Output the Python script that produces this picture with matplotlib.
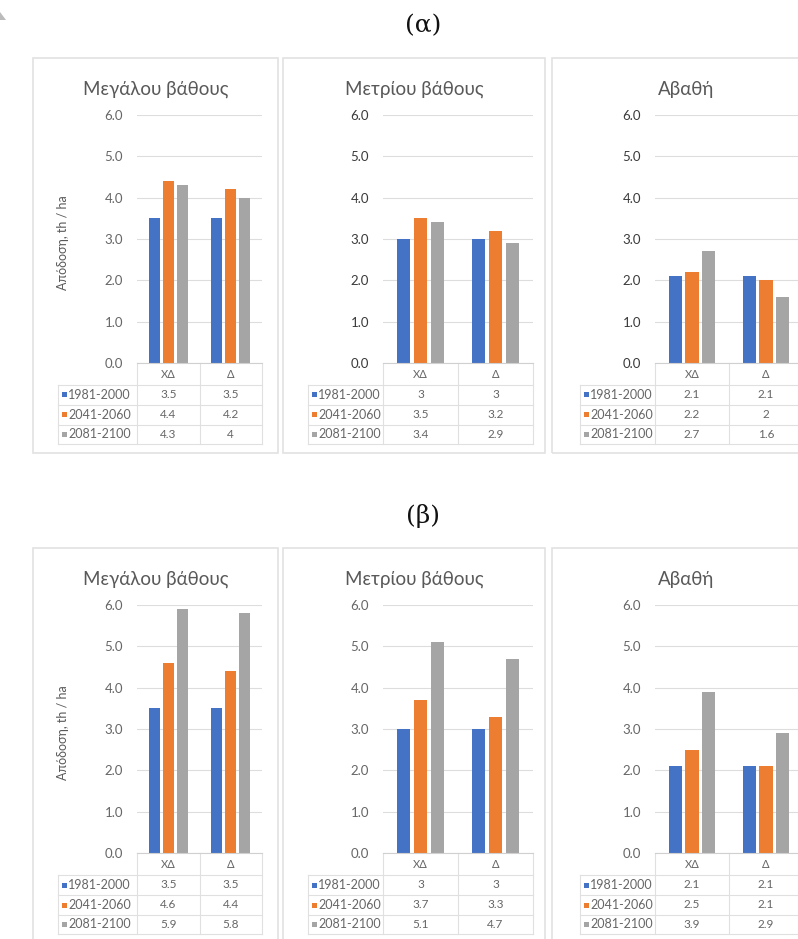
import matplotlib
matplotlib.use("Agg")
import matplotlib.pyplot as plt
from matplotlib.patches import Rectangle, Polygon

plt.rcParams['font.family'] = ['Lato', 'Noto Sans', 'DejaVu Sans']

# ---------------- data ----------------
panel_titles = ["Μεγάλου βάθους", "Μετρίου βάθους", "Αβαθή"]
categories = ["ΧΔ", "Δ"]
periods = ["1981-2000", "2041-2060", "2081-2100"]
colors = ["#4472C4", "#ED7D31", "#A5A5A5"]
row_titles = ["(α)", "(β)"]
y_label = "Απόδοση, th / ha"
y_ticks = [0, 1, 2, 3, 4, 5, 6]

# (α) values: [panel][period][category]
a_deep = [[3.5, 3.5], [4.4, 4.2], [4.3, 4.0]]
a_medium = [[3.0, 3.0], [3.5, 3.2], [3.4, 2.9]]
a_shallow = [[2.1, 2.1], [2.2, 2.0], [2.7, 1.6]]
# (β) values
b_deep = [[3.5, 3.5], [4.6, 4.4], [5.9, 5.8]]
b_medium = [[3.0, 3.0], [3.7, 3.3], [5.1, 4.7]]
b_shallow = [[2.1, 2.1], [2.5, 2.1], [3.9, 2.9]]

rows_data = [[a_deep, a_medium, a_shallow], [b_deep, b_medium, b_shallow]]

# ---------------- layout (pixels) ----------------
W, H = 798, 939
fig = plt.figure(figsize=(W / 100, H / 100), dpi=100)
fig.patch.set_facecolor("white")


def fx(x):
    return x / W


def fy(y):
    return 1 - y / H


def add_ax(l, t, r, b, **kw):
    return fig.add_axes([fx(l), fy(b), (r - l) / W, (b - t) / H], **kw)


boxes = [(33, 278), (283, 545), (552, 820)]
plot_lr = [(137, 262), (383, 533), (655, 803)]
table_left = [58, 308, 580]
row_dy = [0, 490]
PLOT_TOP, PLOT_BOT = 115, 363
BOX_TOP, BOX_BOT = 58, 453
TBL_LINES = [0, 22, 42, 62, 81]

TXT = "#595959"
GRID = "#DDDDDD"
width = 0.18
offs = [-0.225, 0.0, 0.225]
xs = list(range(len(categories)))

for r, dy in enumerate(row_dy):
    fig.text(fx(423), fy(26 + dy), row_titles[r], ha="center", va="center",
             fontsize=18, family=["DejaVu Serif"], color="#111111")
    for p in range(3):
        data = rows_data[r][p]
        bl, br = boxes[p]
        fig.patches.append(Rectangle((fx(bl), fy(BOX_BOT + dy)), (br - bl) / W,
                                     (BOX_BOT - BOX_TOP) / H, transform=fig.transFigure,
                                     facecolor="none", edgecolor="#E2E2E2", lw=1.2, zorder=-1))
        fig.text(fx((bl + br) / 2), fy(89 + dy), panel_titles[p], ha="center", va="center",
                 fontsize=13.5, color=TXT)
        pl, pr = plot_lr[p]
        ax = add_ax(pl, PLOT_TOP + dy, pr, PLOT_BOT + dy)
        ax.set_facecolor("none")
        for k in range(3):
            ax.bar([x + offs[k] for x in xs], data[k], width=width, color=colors[k],
                   zorder=3)
        ax.set_xlim(-0.5, 1.5)
        ax.set_ylim(0, 6)
        ax.set_yticks(y_ticks)
        ax.set_yticklabels([f"{v:.1f}" for v in y_ticks])
        ax.set_xticks([])
        ax.grid(axis="y", color=GRID, lw=0.8, zorder=0)
        for s in ax.spines.values():
            s.set_visible(False)
        tick_col = "#3A3A3A" if r == 0 and p > 0 else "#666666"
        ax.tick_params(axis="y", length=0, pad=10, labelsize=9.5, labelcolor=tick_col)
        if p == 0:
            fig.text(fx(63), fy(243 + dy), y_label, rotation=90, ha="center", va="center",
                     fontsize=9, color=TXT)

        # data table
        tl = table_left[p]
        catw = (pr - pl) / 2
        x0 = -0.5 - (pl - tl) / catw
        tax = add_ax(tl, PLOT_BOT + dy, pr, PLOT_BOT + dy + TBL_LINES[-1])
        tax.set_xlim(x0, 1.5)
        tax.set_ylim(TBL_LINES[-1], 0)
        tax.axis("off")
        lc = "#E0E0E0"
        for xv in [-0.5, 0.5, 1.5]:
            tax.plot([xv, xv], [0, TBL_LINES[-1]], color=lc, lw=0.8, clip_on=False)
        tax.plot([x0, x0], [TBL_LINES[1], TBL_LINES[-1]], color=lc, lw=0.8, clip_on=False)
        tax.plot([-0.5, 1.5], [0, 0], color="#D0D0D0", lw=0.8, clip_on=False)
        for yv in TBL_LINES[1:]:
            tax.plot([x0, 1.5], [yv, yv], color=lc, lw=0.8, clip_on=False)
        for c, cat in enumerate(categories):
            tax.text(c, (TBL_LINES[0] + TBL_LINES[1]) / 2 + 1, cat, ha="center", va="center",
                     fontsize=8, color="#666666")
        for k in range(3):
            yc = (TBL_LINES[k + 1] + TBL_LINES[k + 2]) / 2
            tax.add_patch(Rectangle((x0 + 4 / catw, yc - 2.5), 5 / catw, 5,
                                    facecolor=colors[k], edgecolor="none", clip_on=False))
            tax.text(x0 + 10 / catw, yc, periods[k], ha="left", va="center", fontsize=9,
                     color="#666666")
            for c in range(len(categories)):
                tax.text(c, yc, f"{data[k][c]:g}", ha="center", va="center", fontsize=8.5,
                         color="#666666")

# small corner mark seen at top-left of the page
fig.patches.append(Polygon([(fx(0), fy(20)), (fx(6), fy(20)), (fx(0), fy(12))], closed=True,
                           transform=fig.transFigure, facecolor="#BBBBBB", edgecolor="none"))

fig.savefig("out.png", dpi=100, facecolor="white")
